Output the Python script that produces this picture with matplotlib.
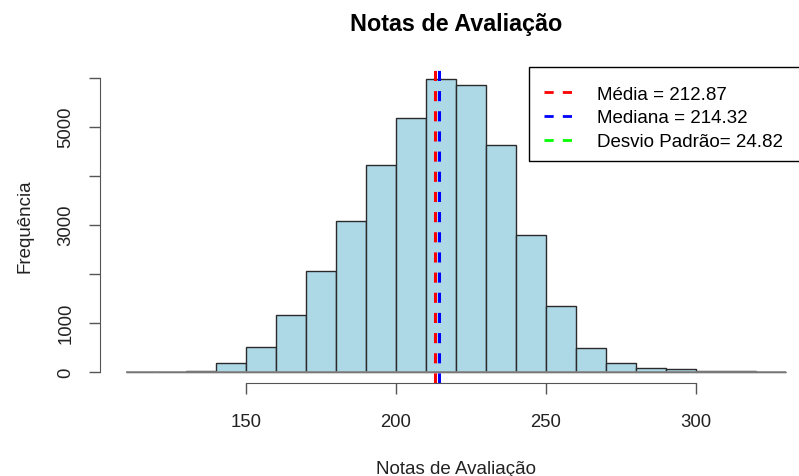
import numpy as np
import matplotlib
matplotlib.use("Agg")
import matplotlib.pyplot as plt
from matplotlib.lines import Line2D
from matplotlib.patches import Rectangle

plt.rcParams['font.family'] = ['Liberation Sans', 'DejaVu Sans']

# dados do histograma
bin_edges = list(range(110, 340, 10))
contagens = [0, 0, 20, 170, 510, 1150, 2050, 3080, 4220, 5170, 5970,
             5850, 4620, 2800, 1335, 478, 178, 75, 48, 12, 10, 0]
media = 212.87
mediana = 214.32
desvio = 24.82

y_ticks = [0, 1000, 2000, 3000, 4000, 5000, 6000]
y_labels = ['0', '1000', '', '3000', '', '5000', '']
x_ticks = [150, 200, 250, 300]

W, H = 799, 477
fig = plt.figure(figsize=(W / 100, H / 100), dpi=100)
ax = fig.add_axes([0.1247, 0.1941, 0.8921, 0.6623])

edges = np.array(bin_edges)
ax.bar(edges[:-1], contagens, width=np.diff(edges), align='edge',
       color='#ADD8E6', edgecolor='#2a2a2a', linewidth=1)
ax.hlines(0, edges[0], edges[-1], color='#888888', lw=1.2, zorder=1)

ax.axvline(media, color='red', ls=(0, (3.3, 3.3)), lw=2.2)
ax.axvline(mediana, color='blue', ls=(0, (3.3, 3.3)), lw=2.2)

# limites estilo R (4% de folga)
rx = edges[-1] - edges[0]
ax.set_xlim(edges[0] - 0.04 * rx, edges[-1] + 0.04 * rx)
ry = max(contagens)
ax.set_ylim(-0.04 * ry, ry * 1.04)

for s in ['top', 'right']:
    ax.spines[s].set_visible(False)
ax.spines['left'].set_bounds(0, 6000)
ax.spines['bottom'].set_bounds(150, 300)
for s in ['left', 'bottom']:
    ax.spines[s].set_color('#555555')
ax.tick_params(colors='#555555', length=8, width=1, labelcolor='#222222', labelsize=13.3)
ax.set_yticks(y_ticks)
ax.set_yticklabels(y_labels, rotation=90, va='center')
ax.set_xticks(x_ticks)
ax.tick_params(axis='y', pad=10)
ax.tick_params(axis='x', pad=13)

ax.set_title('Notas de Avaliação', fontsize=16.8, fontweight='bold', pad=27)
ax.set_xlabel('Notas de Avaliação', fontsize=13.5, labelpad=22, color='#222222')
ax.set_ylabel('Frequência', fontsize=13.5, labelpad=17.5, color='#222222')

handles = [Line2D([], [], color='red', ls=(0, (3.3, 3.3)), lw=2),
           Line2D([], [], color='blue', ls=(0, (3.3, 3.3)), lw=2),
           Line2D([], [], color='#00FF00', ls=(0, (3.3, 3.3)), lw=2)]
labels = ['Média = %.2f' % media, 'Mediana = %.2f' % mediana,
          'Desvio Padrão= %.2f' % desvio]
leg = ax.legend(handles, labels, loc='upper left', bbox_to_anchor=(0.6024, 0.9905),
                frameon=False, fontsize=13.5,
                handlelength=1.7, handletextpad=1.1, borderpad=0.8,
                labelspacing=0.36, borderaxespad=0)

# caixa da legenda passa da borda direita, como no original
caixa = Rectangle((529 / W, 1 - 161.7 / H), (815 - 529) / W, (161.7 - 68.3) / H,
                  transform=fig.transFigure, facecolor='white', edgecolor='black',
                  lw=1, zorder=4.5, clip_on=False)
ax.add_patch(caixa)

fig.savefig('out.png', dpi=100)
